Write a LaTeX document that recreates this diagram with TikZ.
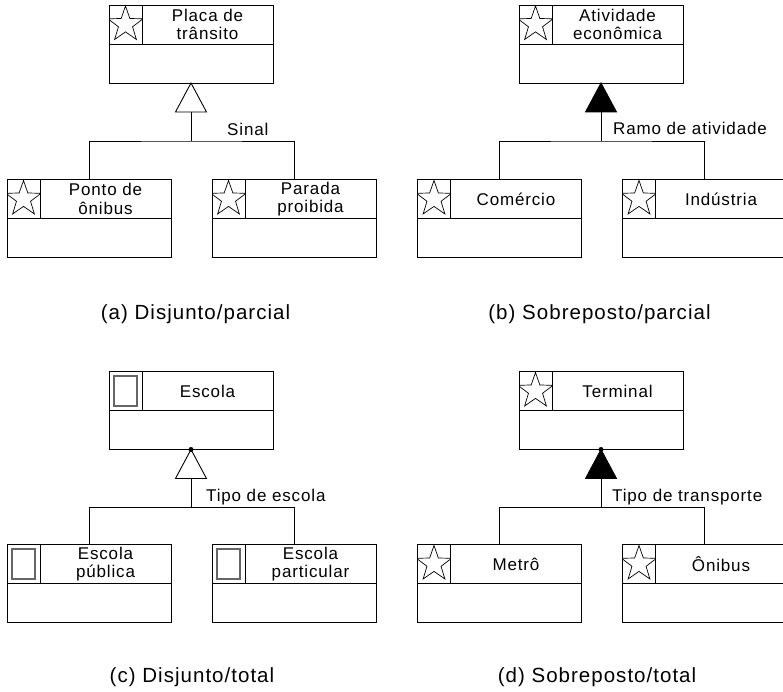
\documentclass[tikz,border=0pt]{standalone}
\usepackage{fontspec}
\setmainfont{Liberation Sans}[LetterSpace=5]
\usetikzlibrary{positioning,shapes.geometric}
\tikzset{
  classe/.style={draw, line width=0.9pt, minimum width=164pt, minimum height=78pt, inner sep=0pt, outer sep=0pt},
  icone/.style={draw, line width=0.9pt, minimum width=33pt, minimum height=39pt, inner sep=0pt, outer sep=0pt},
  nomecl/.style={draw, line width=0.9pt, minimum width=131pt, minimum height=39pt, inner sep=0pt, outer sep=0pt,
                 align=center, font=\fontsize{17}{18.5}\selectfont},
  estrela/.style={icone, path picture={\node[star, star points=5, star point ratio=2.5, draw, anchor=center,
                 line width=0.7pt, minimum size=37pt, inner sep=0pt] at (path picture bounding box.center) {};}},
  quadro/.style={icone, path picture={\node[draw=black!60, line width=1.2pt, minimum width=23pt, anchor=center,
                 minimum height=30pt, inner sep=0pt] at (path picture bounding box.center) {};}},
  aberto/.style={draw, line width=0.9pt, fill=white},
  cheio/.style={draw, line width=0.9pt, fill=black},
  linha/.style={line width=0.9pt},
  rotulo/.style={font=\fontsize{17}{18}\selectfont, inner sep=0pt, anchor=base west},
  legenda/.style={font=\fontsize{20.5}{22}\selectfont, inner sep=0pt}
}

\begin{document}
\begin{tikzpicture}[x=1pt, y=-1pt]
\clip (0,0) rectangle (783,692);

% (a) Disjunto/parcial
\node[classe] (placa) at (191,44) {};
\node[estrela, anchor=north west] (placaI) at (placa.north west) {};
\node[nomecl, anchor=west] (placaN) at (placaI.east) {Placa de\\trânsito};
\node[classe] (ponto) at (89,218.5) {};
\node[estrela, anchor=north west] (pontoI) at (ponto.north west) {};
\node[nomecl, anchor=west] (pontoN) at (pontoI.east) {Ponto de\\ônibus};
\node[classe] (parada) at (294,218.5) {};
\node[estrela, anchor=north west] (paradaI) at (parada.north west) {};
\node[nomecl, anchor=west] (paradaN) at (paradaI.east) {Parada\\proibida};
\draw[aberto] (placa.south) -- ++(15.5,29) -- ++(-31,0) -- cycle;
\coordinate (placaT) at ([yshift=-29pt]placa.south);
\coordinate (jA) at ([yshift=-58pt]placa.south);
\draw[linha] (placaT) -- (jA);
\draw[linha] (ponto.north) |- (jA) -| (parada.north);
\node[rotulo] (sinal) at (227,136) {Sinal};
\node[legenda] (legA) at (195.5,314) {(a) Disjunto/parcial};

% (b) Sobreposto/parcial
\node[classe] (ativ) at (601,44) {};
\node[estrela, anchor=north west] (ativI) at (ativ.north west) {};
\node[nomecl, anchor=west] (ativN) at (ativI.east) {Atividade\\econômica};
\node[classe] (comercio) at (499.5,218.5) {};
\node[estrela, anchor=north west] (comercioI) at (comercio.north west) {};
\node[nomecl, anchor=west] (comercioN) at (comercioI.east) {Comércio};
\node[classe] (industria) at (704.5,218.5) {};
\node[estrela, anchor=north west] (industriaI) at (industria.north west) {};
\node[nomecl, anchor=west] (industriaN) at (industriaI.east) {Indústria};
\draw[cheio] (ativ.south) -- ++(15.5,29) -- ++(-31,0) -- cycle;
\coordinate (ativT) at ([yshift=-29pt]ativ.south);
\coordinate (jB) at ([yshift=-58pt]ativ.south);
\draw[linha] (ativT) -- (jB);
\draw[linha] (comercio.north) |- (jB) -| (industria.north);
\node[rotulo] (ramo) at (613,135) {Ramo de atividade};
\node[legenda] (legB) at (599.5,314) {(b) Sobreposto/parcial};

% (c) Disjunto/total
\node[classe] (escola) at (191,410.5) {};
\node[quadro, anchor=north west] (escolaI) at (escola.north west) {};
\node[nomecl, anchor=west] (escolaN) at (escolaI.east) {Escola};
\node[classe] (publica) at (89,583.5) {};
\node[quadro, anchor=north west] (publicaI) at (publica.north west) {};
\node[nomecl, anchor=west] (publicaN) at (publicaI.east) {Escola\\pública};
\node[classe] (particular) at (294,583.5) {};
\node[quadro, anchor=north west] (particularI) at (particular.north west) {};
\node[nomecl, anchor=west] (particularN) at (particularI.east) {Escola\\particular};
\draw[aberto] (escola.south) -- ++(15.5,29) -- ++(-31,0) -- cycle;
\fill (escola.south) circle (2.5pt);
\coordinate (escolaT) at ([yshift=-29pt]escola.south);
\coordinate (jC) at ([yshift=-58pt]escola.south);
\draw[linha] (escolaT) -- (jC);
\draw[linha] (publica.north) |- (jC) -| (particular.north);
\node[rotulo] (tipoesc) at (206,501.5) {Tipo de escola};
\node[legenda] (legC) at (192,677) {(c) Disjunto/total};

% (d) Sobreposto/total
\node[classe] (terminal) at (601,410.5) {};
\node[estrela, anchor=north west] (terminalI) at (terminal.north west) {};
\node[nomecl, anchor=west] (terminalN) at (terminalI.east) {Terminal};
\node[classe] (metro) at (499.5,583.5) {};
\node[estrela, anchor=north west] (metroI) at (metro.north west) {};
\node[nomecl, anchor=west] (metroN) at (metroI.east) {Metrô};
\node[classe] (onibus) at (704.5,583.5) {};
\node[estrela, anchor=north west] (onibusI) at (onibus.north west) {};
\node[nomecl, anchor=west] (onibusN) at (onibusI.east) {Ônibus};
\draw[cheio] (terminal.south) -- ++(15.5,29) -- ++(-31,0) -- cycle;
\fill (terminal.south) circle (2.5pt);
\coordinate (terminalT) at ([yshift=-29pt]terminal.south);
\coordinate (jD) at ([yshift=-58pt]terminal.south);
\draw[linha] (terminalT) -- (jD);
\draw[linha] (metro.north) |- (jD) -| (onibus.north);
\node[rotulo] (tipotr) at (612,501.5) {Tipo de transporte};
\node[legenda] (legD) at (597,677) {(d) Sobreposto/total};
\end{tikzpicture}
\end{document}
